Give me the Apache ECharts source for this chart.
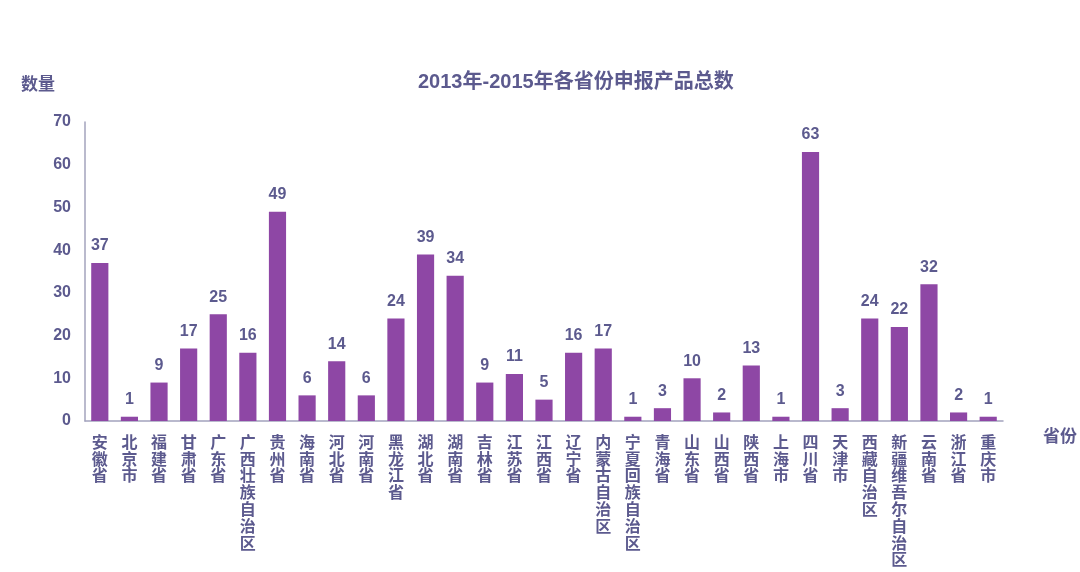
<!DOCTYPE html>
<html><head><meta charset="utf-8">
<script src="https://cdn.jsdelivr.net/npm/echarts@6/dist/echarts.min.js"></script>
<style>html,body{margin:0;padding:0;background:#fff}#c{width:1080px;height:572px}</style>
</head><body><div id="c"></div>
<script>
const categories = ["安徽省","北京市","福建省","甘肃省","广东省","广西壮族自治区","贵州省","海南省","河北省","河南省","黑龙江省","湖北省","湖南省","吉林省","江苏省","江西省","辽宁省","内蒙古自治区","宁夏回族自治区","青海省","山东省","山西省","陕西省","上海市","四川省","天津市","西藏自治区","新疆维吾尔自治区","云南省","浙江省","重庆市"];
const values = [37,1,9,17,25,16,49,6,14,6,24,39,34,9,11,5,16,17,1,3,10,2,13,1,63,3,24,22,32,2,1];
const titleText = "2013年-2015年各省份申报产品总数";
const FONT = '"Liberation Sans","Noto Sans CJK SC",sans-serif';
const TXT = '#5c5a8e';
const chart = echarts.init(document.getElementById('c'));
chart.setOption({
  animation:false,
  title:{text:titleText,left:413,top:67,textStyle:{fontFamily:FONT,fontSize:20,fontWeight:'bold',color:TXT}},
  grid:{left:85,right:77,top:122,bottom:151,containLabel:false},
  xAxis:{type:'category',data:categories,
    name:'省份',nameLocation:'end',nameGap:40,
    nameTextStyle:{fontFamily:FONT,fontSize:17,fontWeight:'bold',color:TXT,verticalAlign:'top',padding:[8,0,0,0]},
    axisLine:{lineStyle:{color:'#a3a3bd',width:1.5}},axisTick:{show:false},
    axisLabel:{interval:0,margin:14,fontFamily:FONT,fontSize:16,fontWeight:'bold',color:TXT,lineHeight:16.8,verticalAlign:'top',
      formatter:v=>v.split('').join('\n')}},
  yAxis:{type:'value',min:0,max:70,interval:10,
    name:'数量',nameLocation:'end',nameGap:28,
    nameTextStyle:{fontFamily:FONT,fontSize:17,fontWeight:'bold',color:TXT,align:'right',padding:[0,30,0,0]},
    axisLine:{show:true,lineStyle:{color:'#a3a3bd',width:1.5}},axisTick:{show:false},splitLine:{show:false},
    axisLabel:{margin:14,fontFamily:FONT,fontSize:16,fontWeight:'bold',color:TXT}},
  series:[{type:'bar',data:values,barWidth:'58%',itemStyle:{color:'#8e47a5'},
    label:{show:true,position:'top',distance:9,fontFamily:FONT,fontSize:16,fontWeight:'bold',color:TXT}}]
});
</script></body></html>
